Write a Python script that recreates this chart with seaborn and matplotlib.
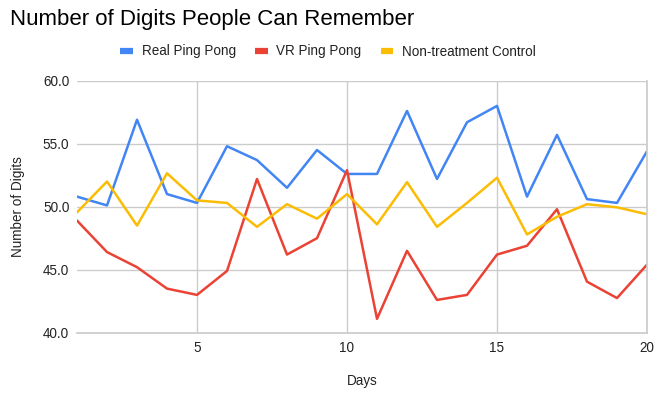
import matplotlib
matplotlib.use("Agg")
import matplotlib.pyplot as plt
import seaborn as sns
import pandas as pd
from matplotlib.lines import Line2D

days = list(range(1, 21))
real_ping_pong = [50.8, 50.1, 56.9, 51.0, 50.3, 54.8, 53.7, 51.5, 54.5, 52.6,
                  52.6, 57.6, 52.2, 56.7, 58.0, 50.8, 55.7, 50.6, 50.3, 54.4]
vr_ping_pong = [48.9, 46.4, 45.2, 43.5, 43.0, 44.9, 52.2, 46.2, 47.5, 52.9,
                41.1, 46.5, 42.6, 43.0, 46.2, 46.9, 49.8, 44.05, 42.75, 45.4]
control = [49.55, 52.0, 48.5, 52.65, 50.5, 50.3, 48.4, 50.2, 49.05, 51.0,
           48.6, 51.95, 48.4, 50.3, 52.3, 47.8, 49.2, 50.2, 49.95, 49.4]
series_names = ["Real Ping Pong", "VR Ping Pong", "Non-treatment Control"]
colors = ["#4285F4", "#EA4335", "#FBBC04"]
y_ticks = [40, 45, 50, 55, 60]
x_ticks = [5, 10, 15, 20]

df = pd.DataFrame({
    "Days": days * 3,
    "value": real_ping_pong + vr_ping_pong + control,
    "series": [series_names[0]] * 20 + [series_names[1]] * 20 + [series_names[2]] * 20,
})

sns.set_theme(style="white")
plt.rcParams['font.family'] = ['Liberation Sans', 'DejaVu Sans']

fig = plt.figure(figsize=(6.6, 3.98), dpi=100)
ax = fig.add_axes([77 / 660, 1 - 332.7 / 398, (647 - 77) / 660, (332.7 - 80.7) / 398])

sns.lineplot(data=df, x="Days", y="value", hue="series", palette=colors,
             hue_order=series_names, linewidth=1.8, ax=ax, legend=False)

fs = 9.75
ax.set_xlim(1, 20)
ax.set_ylim(40, 60)
ax.set_yticks(y_ticks)
ax.set_yticklabels([f"{v:.1f}" for v in y_ticks])
ax.set_xticks(x_ticks)
ax.set_xticklabels([str(v) for v in x_ticks])
ax.grid(True, color="#cccccc", linewidth=1)
ax.set_axisbelow(True)
for s in ["top", "left"]:
    ax.spines[s].set_visible(False)
ax.spines["bottom"].set_color("#cccccc")
ax.spines["right"].set_color("#cccccc")
ax.tick_params(axis="both", length=0, labelsize=fs, colors="#222222")
ax.tick_params(axis="y", pad=5.5)
ax.tick_params(axis="x", pad=6)
ax.set_xlabel("Days", fontsize=fs, color="#222222", labelpad=14)
ax.set_ylabel("Number of Digits", fontsize=fs, color="#222222", labelpad=13)

fig.text(10 / 660, 1 - 20 / 398, "Number of Digits People Can Remember",
         fontsize=16, color="#000000", ha="left", va="center")

handles = [Line2D([0], [0], color=c, linewidth=4.5, solid_capstyle="butt") for c in colors]
fig.legend(handles, series_names, loc="center", bbox_to_anchor=(328 / 660, 1 - 51.5 / 398),
           ncol=3, frameon=False, fontsize=fs, handlelength=0.95, handletextpad=0.65,
           columnspacing=1.4, labelcolor="#222222")

fig.savefig("out.png", dpi=100)
